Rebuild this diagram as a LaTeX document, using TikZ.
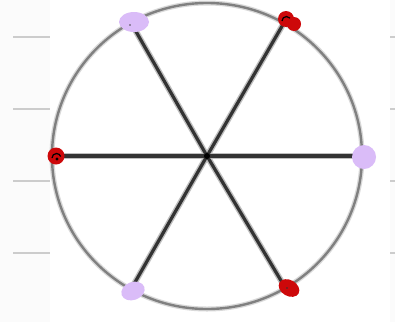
\documentclass[tikz,border=0pt]{standalone}
\begin{document}
\begin{tikzpicture}[x=1pt,y=-1pt,
  spoke/.style={line width=3.2pt,draw=black!80,line cap=round},
  spokehalo/.style={line width=6pt,draw=black!25,line cap=round},
  rim/.style={line width=2.4pt,draw=black!50},
  rimhalo/.style={line width=5pt,draw=black!15},
  tick/.style={line width=1.2pt,draw=black!20},
  lav/.style={fill={rgb,255:red,218;green,188;blue,248},draw=none},
  redm/.style={fill={rgb,255:red,205;green,8;blue,10},draw=none}]
\useasboundingbox (0,0) rectangle (395,322);
\fill[white] (0,0) rectangle (395,322);
\fill[black!1.5] (0,0) rectangle (50,322);
\fill[black!1.5] (390,0) rectangle (395,322);
\foreach \y in {37,109,181,253}{
  \draw[tick] (13,\y) -- (50,\y);
  \draw[tick] (390,\y) -- (395,\y);
}
\coordinate (c) at (207,156);
\coordinate (p1) at (130,21);
\coordinate (p2) at (285,21);
\coordinate (p3) at (55,156);
\coordinate (p4) at (362,156);
\coordinate (p5) at (130,291);
\coordinate (p6) at (286,289);
\draw[rimhalo] (c) ellipse[x radius=155,y radius=153];
\draw[rim] (c) ellipse[x radius=155,y radius=153];
\foreach \p in {p1,p2,p3,p4,p5,p6}{\draw[spokehalo] (c) -- (\p);}
\foreach \p in {p1,p2,p3,p4,p5,p6}{\draw[spoke] (c) -- (\p);}
\fill[black] (c) circle (3);
% lavender markers
\fill[lav] (134,22) ellipse[x radius=15,y radius=10];
\fill[black!70] (130,25) circle (0.8);
\fill[lav] (364,157) ellipse[x radius=12,y radius=12];
\fill[lav,rotate around={20:(133,291)}] (133,291) ellipse[x radius=12,y radius=9];
% red markers
\fill[redm] (286,19) circle (8);
\fill[redm] (294,24) circle (7);
\draw[black,line width=1.2pt] (282,21) arc[start angle=180,end angle=320,radius=4.5];
\fill[redm] (56,156) circle (8.5);
\draw[black,line width=1.2pt] (52,158) arc[start angle=180,end angle=340,radius=4.5];
\fill[black] (57,159) circle (1.6);
\fill[redm,rotate around={-30:(289,288)}] (289,288) ellipse[x radius=11,y radius=8];
\fill[black!80] (287,288) circle (0.8);
\end{tikzpicture}
\end{document}
